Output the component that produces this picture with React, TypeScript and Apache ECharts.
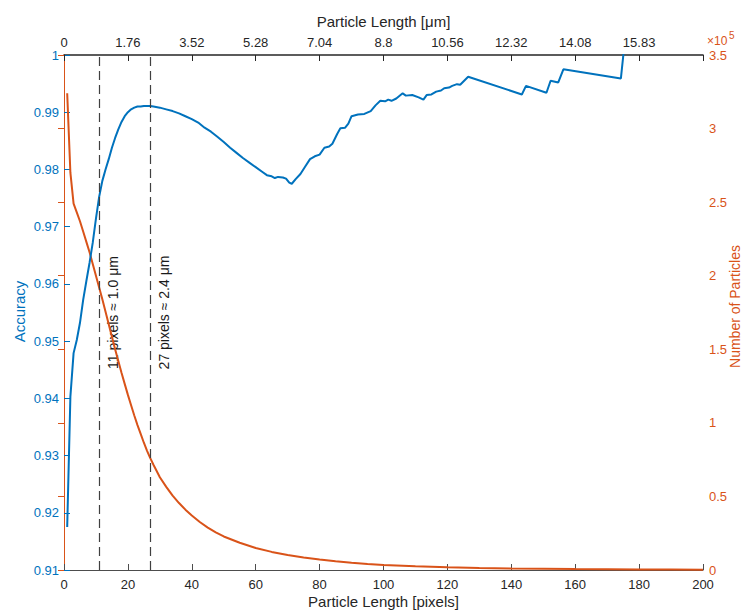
import React, { useEffect, useRef } from "react";
import * as echarts from "echarts";

const BLUE = "#0072BD";
const ORANGE = "#D95319";
const DARK = "#262626";
const FONT = "'Liberation Sans', Arial, Helvetica, sans-serif";

// Accuracy vs particle length (pixels)
const accX = [
  1, 2, 3, 4, 5, 6, 7, 8, 9, 10, 11, 12, 13, 14, 15, 16, 17, 18, 19, 20, 21, 22, 23, 24, 25, 26, 27, 28,
  30, 32, 34, 36, 38, 40, 42, 44, 46, 48, 50, 52, 54, 56, 58, 60, 62, 63.5, 65, 66, 67, 68.5, 69.5, 70.5,
  71.3, 72.5, 74, 75.5, 77, 78.5, 80, 81.5, 83, 84, 85.5, 86.5, 88, 89, 90, 92, 94, 96, 97.5, 99, 100.5,
  101.5, 102.5, 104, 106, 107, 109, 111, 112.5, 113.5, 115, 116.5, 118, 119, 120.5, 121.5, 123, 124,
  126.5, 143.3, 144.6, 151, 152.3, 154.7, 156.3, 174.3, 176,
];
const accY = [
  0.9175, 0.9403, 0.9479, 0.9502, 0.9532, 0.9572, 0.9605, 0.9637, 0.9672, 0.9714, 0.9752, 0.978, 0.98,
  0.9818, 0.9838, 0.9855, 0.987, 0.9883, 0.9893, 0.99, 0.9905, 0.9908, 0.991, 0.991, 0.9911, 0.9911,
  0.9911, 0.991, 0.9908, 0.9905, 0.9902, 0.9898, 0.9893, 0.9888, 0.9882, 0.9873, 0.9866, 0.9857, 0.9848,
  0.9838, 0.9829, 0.982, 0.9812, 0.9804, 0.9796, 0.979, 0.9788, 0.9785, 0.9787, 0.9786, 0.9784, 0.9777,
  0.9775, 0.9783, 0.9792, 0.9805, 0.9818, 0.9823, 0.9826, 0.9838, 0.984, 0.9845, 0.9862, 0.9872, 0.9873,
  0.988, 0.9893, 0.9896, 0.9897, 0.9902, 0.9912, 0.992, 0.9919, 0.9922, 0.992, 0.9924, 0.9933, 0.9929,
  0.993, 0.9926, 0.9922, 0.993, 0.9931, 0.9936, 0.9938, 0.9942, 0.9943, 0.9946, 0.9949, 0.9948, 0.9962,
  0.9931, 0.9946, 0.9934, 0.9955, 0.9952, 0.9975, 0.9959, 1.005,
];

// Number of particles vs particle length (pixels)
const countX = [
  1, 2, 3, 4, 5, 6, 7, 8, 9, 10, 11, 12, 13, 14, 15, 16, 17, 18, 19, 20, 21, 22, 23, 24, 25, 26, 27, 28,
  30, 32, 34, 36, 38, 40, 42.5, 45, 47.5, 50, 55, 60, 65, 70, 75, 80, 85, 90, 95, 100, 110, 120, 130, 140,
  150, 160, 170, 180, 190, 200,
];
const countY = [
  324000, 270000, 249000, 243000, 237000, 230000, 223000, 216000, 208000, 200000, 192000, 184000, 175500,
  167000, 158500, 150000, 142000, 134000, 126500, 119000, 112000, 105000, 98500, 92500, 86500, 81000,
  76000, 71500, 63000, 56500, 50500, 45500, 41000, 37000, 32600, 28800, 25600, 22800, 18500, 15000, 12300,
  10200, 8500, 7100, 5900, 4900, 4100, 3400, 2500, 1800, 1300, 1000, 800, 600, 500, 400, 300, 200,
];

const bottomTicks = [0, 20, 40, 60, 80, 100, 120, 140, 160, 180, 200];
const topTickLabels = ["0", "1.76", "3.52", "5.28", "7.04", "8.8", "10.56", "12.32", "14.08", "15.83", ""];
const markers = [11, 27];
const markerTexts = ["11 pixels \u2248 1.0 \u03bcm", "27 pixels \u2248 2.4 \u03bcm"];
const titles = {
  bottom: "Particle Length [pixels]",
  top: "Particle Length [\u03bcm]",
  left: "Accuracy",
  right: "Number of Particles",
};

export default function App() {
  const ref = useRef<HTMLDivElement>(null);
  useEffect(() => {
    if (!ref.current) return;
    const chart = echarts.init(ref.current, null, { renderer: "svg" });
    const tickCommon = { inside: true, length: 6 };
    chart.setOption({
      animation: false,
      textStyle: { fontFamily: FONT },
      grid: { left: 64, right: 48, top: 55, bottom: 42, containLabel: false },
      xAxis: [
        {
          type: "value",
          position: "bottom",
          min: bottomTicks[0],
          max: bottomTicks[bottomTicks.length - 1],
          interval: 20,
          axisLine: { lineStyle: { color: "#4d4d4d", width: 1 } },
          axisTick: { ...tickCommon, lineStyle: { color: "#4d4d4d" } },
          axisLabel: { color: DARK, fontSize: 13, margin: 8, fontFamily: FONT },
          splitLine: { show: false },
        },
        {
          type: "value",
          position: "top",
          min: 0,
          max: 200,
          interval: 20,
          axisLine: { lineStyle: { color: DARK, width: 1.6 } },
          axisTick: { ...tickCommon, lineStyle: { color: DARK } },
          axisLabel: {
            color: DARK,
            fontSize: 13,
            margin: 6,
            fontFamily: FONT,
            formatter: (v: number) => topTickLabels[Math.round(v / 20)] ?? "",
          },
          splitLine: { show: false },
        },
      ],
      yAxis: [
        {
          type: "value",
          position: "left",
          min: 0.91,
          max: 1,
          interval: 0.01,
          axisLine: { show: true, lineStyle: { color: "#4d4d4d", width: 1 } },
          axisTick: { show: true, ...tickCommon, lineStyle: { color: BLUE } },
          axisLabel: {
            color: BLUE,
            fontSize: 13,
            margin: 5,
            fontFamily: FONT,
            formatter: (v: number) => String(parseFloat(v.toFixed(2))),
          },
          splitLine: { show: false },
        },
        {
          type: "value",
          position: "right",
          min: 0,
          max: 350000,
          interval: 50000,
          axisLine: { show: true, lineStyle: { color: ORANGE, width: 1 } },
          axisTick: { show: true, ...tickCommon, lineStyle: { color: ORANGE } },
          axisLabel: {
            color: ORANGE,
            fontSize: 13,
            margin: 6,
            fontFamily: FONT,
            formatter: (v: number) => String(parseFloat((v / 1e5).toFixed(2))),
          },
          splitLine: { show: false },
        },
      ],
      series: [
        {
          type: "line",
          xAxisIndex: 0,
          yAxisIndex: 1,
          data: countX.map((x, i) => [x, countY[i]]),
          showSymbol: false,
          clip: true,
          lineStyle: { color: ORANGE, width: 2 },
          itemStyle: { color: ORANGE },
          z: 2,
        },
        {
          type: "line",
          xAxisIndex: 0,
          yAxisIndex: 0,
          data: accX.map((x, i) => [x, accY[i]]),
          showSymbol: false,
          clip: true,
          lineStyle: { color: BLUE, width: 2 },
          itemStyle: { color: BLUE },
          z: 3,
          markLine: {
            silent: true,
            symbol: "none",
            label: { show: false },
            lineStyle: { color: "#404040", width: 1.2, type: [9, 5] },
            data: markers.map((m) => ({ xAxis: m })),
          },
        },
      ],
    });

    const toPx = (x: number, y: number, yi: number) =>
      chart.convertToPixel({ xAxisIndex: 0, yAxisIndex: yi }, [x, y]) as number[];
    const bl = toPx(0, 0.91, 0); // bottom-left corner of plot
    const tr = toPx(200, 1, 0); // top-right corner of plot
    const midX = (bl[0] + tr[0]) / 2;
    const midY = (bl[1] + tr[1]) / 2;

    const txt = (text: string, x: number, y: number, size: number, color: string, rot = 0, align = "center") => ({
      type: "text",
      x,
      y,
      rotation: rot,
      style: { text, fill: color, font: `${size}px ${FONT}`, align, verticalAlign: "middle" },
    });

    const graphics: any[] = markers.map((m, i) => {
      const p = toPx(m, 0.955, 0);
      return txt(markerTexts[i], p[0] + 14, p[1], 14, "#1a1a1a", Math.PI / 2);
    });
    graphics.push(txt(titles.bottom, midX, bl[1] + 31, 15, DARK));
    graphics.push(txt(titles.top, midX, tr[1] - 34, 15, DARK));
    graphics.push(txt(titles.left, bl[0] - 45, midY - 1, 15, BLUE, Math.PI / 2));
    graphics.push(txt(titles.right, tr[0] + 32, midY - 6, 14, ORANGE, Math.PI / 2));
    graphics.push(txt("\u00d710", tr[0] + 4, tr[1] - 14, 12, ORANGE, 0, "left"));
    graphics.push(txt("5", tr[0] + 26, tr[1] - 20, 10, ORANGE, 0, "left"));
    chart.setOption({ graphic: graphics });

    return () => chart.dispose();
  }, []);
  return <div ref={ref} style={{ width: 751, height: 612, position: "absolute", left: 0, top: 0 }} />;
}
